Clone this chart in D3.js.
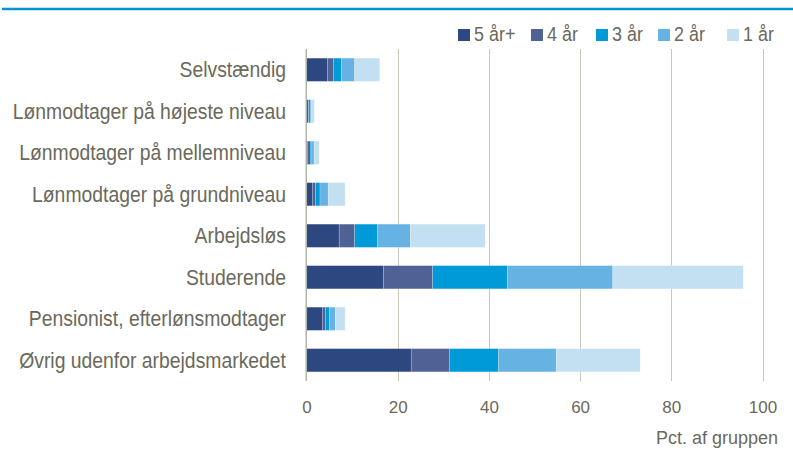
<!DOCTYPE html>
<html>
<head>
<meta charset="utf-8">
<script src="https://cdn.jsdelivr.net/npm/d3@7"></script>
<style>
  html, body { margin: 0; padding: 0; background: #fff; }
  svg { display: block; }
  text { font-family: "Liberation Sans", Arial, sans-serif; fill: #6b695b; }
</style>
</head>
<body>
<svg id="chart" width="793" height="450"></svg>
<script>
// Categories (top to bottom)
const categories = [
  "Selvstændig",
  "Lønmodtager på højeste niveau",
  "Lønmodtager på mellemniveau",
  "Lønmodtager på grundniveau",
  "Arbejdsløs",
  "Studerende",
  "Pensionist, efterlønsmodtager",
  "Øvrig udenfor arbejdsmarkedet"
];

// Series names and per-category values (pct. of group)
const seriesNames = ["5 år+", "4 år", "3 år", "2 år", "1 år"];
const v5plus = [4.5, 0.3, 0.2, 1.3, 7.1, 16.8, 3.4, 22.9];
const v4     = [1.4, 0.1, 0.55, 0.6, 3.4, 10.8, 0.7, 8.4];
const v3     = [1.7, 0.35, 0.35, 1.0, 5.0, 16.4, 0.9, 10.7];
const v2     = [2.9, 0.3, 0.5, 1.8, 7.2, 23.1, 1.25, 12.7];
const v1     = [5.5, 0.6, 1.1, 3.7, 16.4, 28.6, 2.15, 18.4];

const colors = ["#2d4880", "#4f6195", "#009ad9", "#65b2e3", "#c3dff2"];
const xTicks = [0, 20, 40, 60, 80, 100];
const xTitle = "Pct. af gruppen";

const svg = d3.select("#chart");

// Accent rule across the top
svg.append("line")
  .attr("x1", 2).attr("x2", 793)
  .attr("y1", 9).attr("y2", 9)
  .attr("stroke", "#0096d6").attr("stroke-width", 2.5);

const plot = { left: 306.5, right: 762.5, top: 49, bottom: 381 };

const x = d3.scaleLinear().domain([0, 100]).range([plot.left, plot.right]);
const y = d3.scaleBand().domain(categories).range([plot.top, plot.bottom]).paddingInner(0.44).paddingOuter(0.22);

// Build table and stack
const table = categories.map((c, i) => ({
  category: c,
  "5 år+": v5plus[i], "4 år": v4[i], "3 år": v3[i], "2 år": v2[i], "1 år": v1[i]
}));
const stacked = d3.stack().keys(seriesNames)(table);

// Vertical gridlines
svg.append("g")
  .selectAll("line")
  .data(xTicks.filter(t => t > 0))
  .join("line")
  .attr("x1", d => Math.round(x(d)) + 0.5).attr("x2", d => Math.round(x(d)) + 0.5)
  .attr("y1", plot.top).attr("y2", plot.bottom)
  .attr("stroke", "#c8c8bb").attr("stroke-width", 1);

// Value axis line at zero (under the bars)
svg.append("line")
  .attr("x1", x(0) - 0.3).attr("x2", x(0) - 0.3)
  .attr("y1", plot.top).attr("y2", plot.bottom)
  .attr("stroke", "#a3a38c").attr("stroke-width", 1.2);

// Bars
svg.append("g")
  .selectAll("g")
  .data(stacked)
  .join("g")
  .attr("fill", (d, i) => colors[i])
  .selectAll("rect")
  .data(d => d)
  .join("rect")
  .attr("x", d => x(d[0]) + 0.3)
  .attr("width", d => x(d[1]) - x(d[0]))
  .attr("y", d => y(d.data.category))
  .attr("height", y.bandwidth())
  .attr("stroke", "rgba(255,255,255,0.35)")
  .attr("stroke-width", 0.6);

// X tick labels
const xAxis = d3.axisBottom(x).tickValues(xTicks).tickSize(0).tickPadding(0);
const gx = svg.append("g").attr("transform", `translate(0, ${plot.bottom})`).call(xAxis);
gx.select(".domain").remove();
gx.attr("font-family", null).attr("font-size", null);
gx.selectAll("text")
  .attr("y", 32)
  .attr("dy", 0)
  .style("font-size", "17px")
  .attr("fill", "#6b695b");

// X axis title
svg.append("text")
  .attr("x", 778).attr("y", 444)
  .attr("text-anchor", "end")
  .style("font-size", "18px")
  .text(xTitle);

// Category labels, slightly condensed
svg.append("g")
  .selectAll("text")
  .data(categories)
  .join("text")
  .attr("transform", d => `translate(286, ${y(d) + y.bandwidth() / 2}) scale(0.88, 1)`)
  .attr("text-anchor", "end")
  .attr("dy", "0.35em")
  .style("font-size", "22px")
  .text(d => d);

// Legend
const legendX = [458, 531, 596, 658, 727];
const legend = svg.append("g")
  .selectAll("g")
  .data(seriesNames)
  .join("g")
  .attr("transform", (d, i) => `translate(${legendX[i]}, 29)`);
legend.append("rect")
  .attr("width", 12).attr("height", 12)
  .attr("fill", (d, i) => colors[i]);
legend.append("text")
  .attr("transform", "translate(16, 12) scale(0.92, 1)")
  .style("font-size", "19.5px")
  .text(d => d);
</script>
</body>
</html>
